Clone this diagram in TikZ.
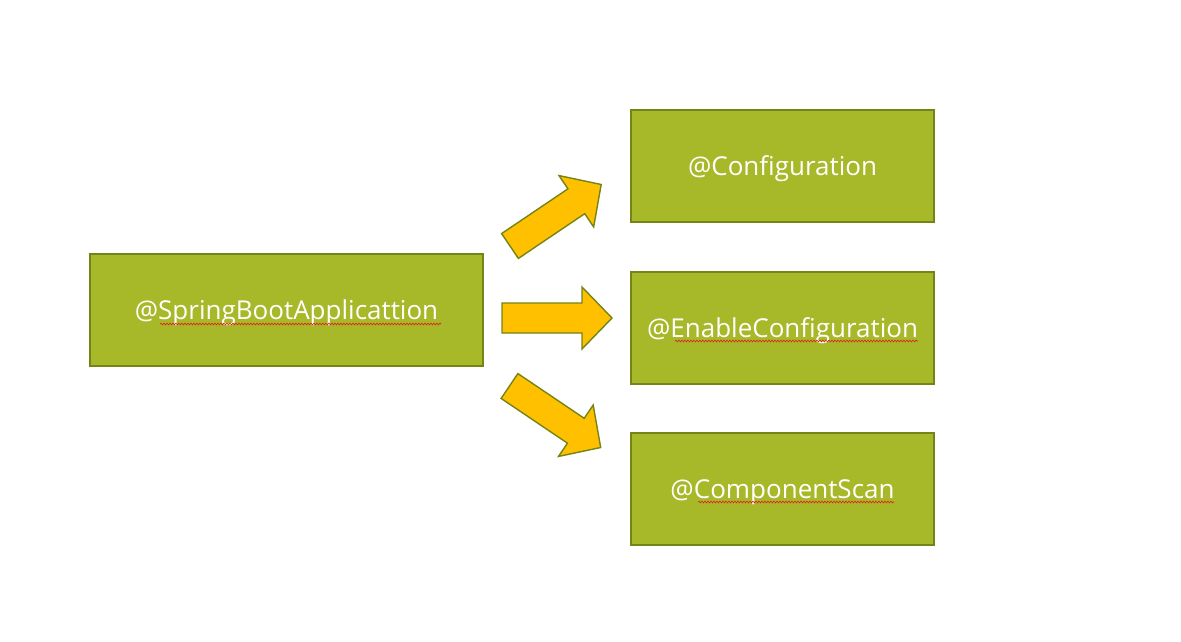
\documentclass[tikz,border=0pt]{standalone}
\usepackage{fontspec}
\setmainfont{Open Sans}
\usetikzlibrary{decorations.pathmorphing}

\definecolor{boxgreen}{RGB}{167,184,40}
\definecolor{boxedge}{RGB}{116,132,22}
\definecolor{arrowgold}{RGB}{255,192,0}
\definecolor{spellred}{RGB}{230,30,30}

\tikzset{
  annobox/.style={draw=boxedge,line width=1.4pt,fill=boxgreen,text=white,
    minimum height=112pt,inner sep=0pt,text depth=0pt,
    font=\fontsize{26}{30}\selectfont},
  blockarrow/.style={draw=boxedge,line width=1.4pt,fill=arrowgold,line join=miter},
  spellmark/.style={spellred,line width=0.6pt,
    decorate,decoration={snake,amplitude=0.9pt,segment length=3pt}}
}

\begin{document}
\begin{tikzpicture}[x=1pt,y=-1pt]
  \useasboundingbox (0,0) rectangle (1181,641);

  % annotation boxes
  \node[annobox,minimum width=393pt] (sba) at (286.5,310) {@SpringBootApplicattion};
  \node[annobox,minimum width=303pt] (cfg) at (782.5,166) {@Configuration};
  \node[annobox,minimum width=303pt] (ecfg) at (782.5,328) {@EnableConfiguration};
  \node[annobox,minimum width=303pt] (cscan) at (782.5,489) {@ComponentScan};

  % block arrows
  \foreach \ang/\tx/\ty in {34/510/246, 0/502/318, -34/509.5/386}{
    \begin{scope}[shift={(\tx,\ty)},rotate=\ang]
      \draw[blockarrow] (0,-15) -- (80,-15) -- (80,-31) -- (110,0)
        -- (80,31) -- (80,15) -- (0,15) -- cycle;
    \end{scope}
  }

  % spell check marks
  \draw[spellmark] (160,324) -- (441,324);
  \draw[spellmark] (675,341) -- (918,341);
  \draw[spellmark] (698,502) -- (894,502);
\end{tikzpicture}
\end{document}
